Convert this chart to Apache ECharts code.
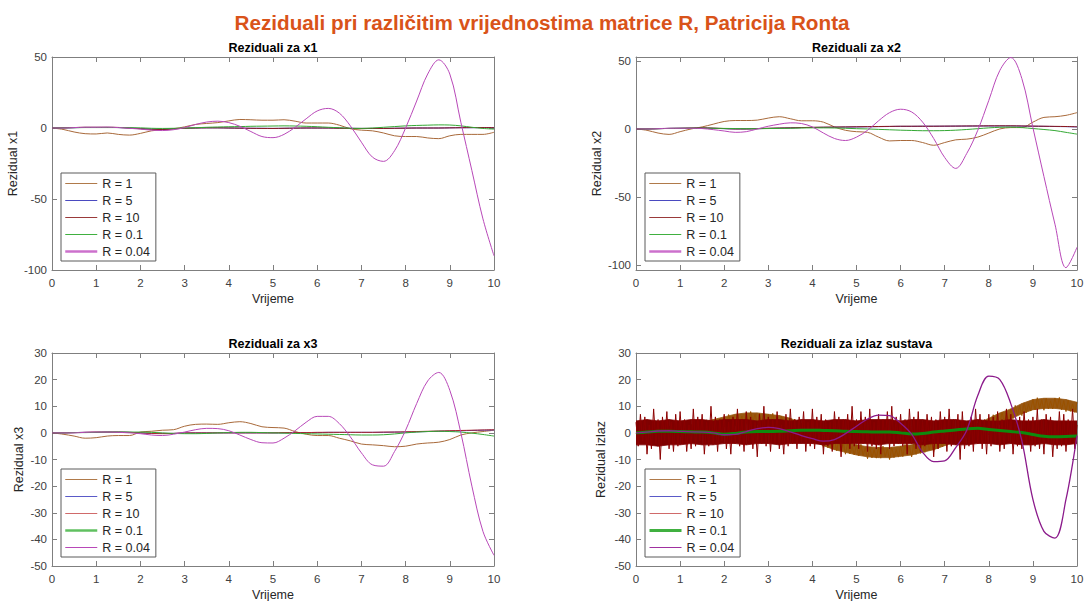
<!DOCTYPE html>
<html><head><meta charset="utf-8">
<script src="https://cdn.jsdelivr.net/npm/echarts@6/dist/echarts.min.js"></script>
<style>html,body{margin:0;padding:0;background:#fff}#main{width:1084px;height:601px}</style>
</head><body><div id="main"></div>
<script>
// ---------- DATA ----------
const NAMES = ['R = 1', 'R = 5', 'R = 10', 'R = 0.1', 'R = 0.04'];
const X_TICKS = [0,1,2,3,4,5,6,7,8,9,10];
const T = [0,0.25,0.5,0.75,1,1.25,1.5,1.75,2,2.25,2.5,2.75,3,3.25,3.5,3.75,4,4.25,4.5,4.75,5,5.25,5.5,5.75,6,6.25,6.5,6.75,7,7.25,7.5,7.75,8,8.25,8.5,8.75,9,9.25,9.5,9.75,10];

// Rezidual x1
const x1_R1   = [0,-1,-2.8,-4,-4.2,-3.5,-4.5,-5,-3.8,-2,-1.2,-0.5,0.8,2.5,3.2,3.8,5,6,5.8,5.5,5.5,5.8,4.8,3.5,3.5,3.5,2,-0.5,-1.5,-2,-3.5,-5.5,-6,-6,-7,-7.5,-5.5,-4.5,-4.5,-4.5,-3];
const x1_R5   = [0,0.1,0.2,0.4,0.4,0.4,0.3,0,-0.4,-0.8,-0.9,-0.5,-0.2,0,0.1,0.1,0,-0.1,-0.2,-0.2,-0.3,-0.2,-0.1,0,0,0,-0.1,-0.2,-0.3,-0.3,-0.3,-0.2,-0.1,0,0,0,0.1,0.2,0.2,0.3,0.3];
const x1_R10  = [0,0.1,0.3,0.5,0.5,0.5,0.4,0,-0.5,-0.9,-1,-0.6,-0.2,0,0.1,0.1,0,-0.1,-0.2,-0.3,-0.3,-0.2,-0.1,0,0,0,-0.2,-0.3,-0.3,-0.3,-0.3,-0.2,-0.1,0,0,0,0.1,0.2,0.3,0.3,0.3];
const x1_R01  = [0,0.1,0.2,0.3,0.3,0.3,0.3,0.2,0.1,-0.2,-0.3,-0.2,0,0.2,0.5,0.7,0.9,1,1.2,1.3,1.4,1.5,1.4,1.2,0.9,0.5,0.2,-0.2,-0.3,0,0.5,1,1.5,1.8,2,2.2,2.1,1.5,0.5,-0.3,-0.8];
const x1_R004 = [0,0,0.3,0.5,0.5,0.6,0.3,-0.2,-0.8,-1.5,-1.8,-1.2,0.3,2.5,4.2,4.8,3.8,1.2,-2.5,-6,-6.8,-4.5,0.5,6.5,12,13.8,10.5,1.5,-10,-20.5,-23.5,-16,0,19,38,48,38,4,-30,-64,-90];

// Rezidual x2
const x2_R1   = [0,-1,-3,-4,-2,0,1.5,3.5,5.5,6.2,6.2,6.5,8,9,7.5,6,6,5,1.5,-1,-2,-2.5,-6,-8.8,-8.5,-8.5,-10,-12,-10,-8,-7.5,-6,-3,0,1,1,5,8.5,9,10,12];
const x2_R5   = [0,0,0.2,0.4,0.5,0.6,0.7,0.5,0.2,0,0,0.2,0.4,0.6,0.8,1,1.1,1.2,1.3,1.4,1.5,1.6,1.7,1.8,1.9,1.9,2,2,2,2.1,2.1,2.2,2.2,2.2,2.2,2.1,2,1.9,1.8,1.7,1.5];
const x2_R10  = [0,0,0.2,0.4,0.5,0.7,0.8,0.6,0.3,0,0,0.2,0.5,0.7,0.8,1,1.2,1.3,1.4,1.5,1.6,1.7,1.8,1.9,2,2,2,2,2.1,2.1,2.2,2.2,2.3,2.3,2.3,2.2,2.1,2,1.9,1.8,1.6];
const x2_R01  = [0,0,0.2,0.4,0.5,0.6,0.6,0.5,0.4,0.3,0.2,0.2,0.3,0.4,0.5,0.7,0.8,0.8,0.7,0.5,0.2,0,-0.3,-0.6,-0.9,-1.1,-1.3,-1.3,-1.2,-0.9,-0.4,0.2,0.8,1.2,1.3,1,0.3,-0.4,-1.2,-2.5,-3.8];
const x2_R004 = [0,0,0.2,0.5,0.5,0.5,0.3,-0.5,-1.5,-2.5,-2,0,2,3.5,4.5,4,1.5,-3,-7,-8.5,-6,-1,6,12,14.5,12.5,5,-7,-21,-29,-18,-1,21,43,52.5,37,1,-35,-70,-102,-87];

// Rezidual x3
const x3_R1   = [0,-0.5,-1.2,-2,-1.8,-1.2,-1,-1,0.3,0.6,1,1.2,2.5,3.2,3.3,3.2,3.8,4.2,3.5,2.3,2,1.8,0.5,-0.5,-1,-1,-2,-3,-4.2,-4.5,-4.8,-5.2,-5,-4.2,-3.8,-3.5,-2.5,-0.8,0,0.5,1];
const x3_R5   = [0,0,0.1,0.2,0.2,0.3,0.3,0.2,0,-0.2,-0.2,-0.2,0,0,0,0,0,0,0,0,0,0,0.1,0.1,0.1,0.2,0.2,0.2,0.2,0.2,0.2,0.3,0.3,0.4,0.5,0.6,0.7,0.8,0.9,1,1.1];
const x3_R10  = [0,0,0.1,0.2,0.3,0.3,0.3,0.2,0,-0.2,-0.3,-0.2,0,0,0,0,0,0,0,0,0,0.1,0.1,0.1,0.2,0.2,0.2,0.2,0.2,0.2,0.3,0.3,0.4,0.5,0.6,0.7,0.8,0.9,1,1.1,1.2];
const x3_R01  = [0,0,0.1,0.1,0.2,0.3,0.3,0.3,0.3,0.2,0,-0.2,-0.3,-0.3,-0.2,0,0.1,0.2,0.2,0.1,0,-0.1,-0.2,-0.3,-0.4,-0.5,-0.6,-0.7,-0.8,-0.8,-0.7,-0.4,0,0.3,0.5,0.6,0.5,0.3,-0.1,-0.6,-1.2];
const x3_R004 = [0,0,0,0.2,0.3,0.3,0.2,0,-0.3,-0.8,-1,-0.5,0.3,1.2,1.7,1.6,0.8,-0.8,-2.5,-3.7,-3.8,-2,0.8,4,6.2,6.2,3.5,-1.5,-7.5,-12,-12.5,-7,1,11,19.5,22.7,16,0,-20,-37,-46];

// Rezidual izlaz (noisy series sampled every 0.05 s)
const TN_STEP = 0.05;
const iz_R1 = [0,-1.9,2.6,-1.3,1.7,-2.2,2.3,-1.6,1.4,-1.5,
  2.5,-1.5,3.0,-1.0,2.0,-2.0,2.5,-1.5,1.5,-1.5,
  2.5,-1.4,3.2,-0.7,2.4,-1.5,3.2,-0.6,2.6,-0.2,
  4.0,0.2,4.9,1.1,4.3,0.5,5.2,1.4,4.6,1.8,
  6.0,2.2,6.9,3.1,6.3,2.5,7.1,3.2,6.3,3.4,
  7.5,3.5,8.0,4.0,7.0,3.0,7.4,3.3,6.2,3.1,
  7.0,2.9,7.3,3.2,6.1,2.0,6.3,2.1,4.9,1.7,
  5.5,1.1,5.2,0.8,3.4,-1.0,3.0,-1.5,1.0,-2.5,
  1.0,-3.4,0.7,-3.7,-1.1,-5.5,-1.3,-5.6,-2.9,-6.2,
  -2.5,-6.7,-2.4,-6.6,-3.8,-8.0,-3.7,-7.9,-5.1,-8.3,
  -4.5,-8.6,-4.3,-8.4,-5.6,-9.7,-5.3,-9.4,-6.4,-9.5,
  -5.5,-9.5,-5.0,-9.0,-6.0,-10.0,-5.4,-9.3,-6.2,-9.1,
  -5.0,-8.9,-4.3,-8.2,-5.1,-9.0,-4.3,-8.1,-4.9,-7.7,
  -3.5,-7.3,-2.6,-6.4,-3.2,-7.0,-2.2,-5.9,-2.6,-5.3,
  -1.0,-4.7,0.1,-3.6,-0.3,-4.0,0.8,-2.9,0.4,-2.3,
  2.0,-1.7,3.1,-0.6,2.7,-1.0,3.9,0.3,3.7,1.1,
  5.5,1.9,6.8,3.2,6.6,3.0,7.8,4.1,7.4,4.7,
  9.0,5.4,10.3,6.7,10.1,6.5,11.3,7.6,10.9,8.2,
  12.5,8.6,13.2,9.3,12.4,8.5,13.0,9.0,12.0,9.0,
  13.0,9.4,13.3,8.7,12.1,8.0,12.3,8.1,10.9,7.7,
  11.5];
// dense core of the R = 1 noise band (every 0.25 s)
const iz_R1_lo = [-1.8,-1.5,-1.3,-1.3,-1.3,-0.8,0.2,1.2,2.2,3.2,3.7,3.7,3.2,2.7,1.7,-0.3,-2.8,-4.8,-6.3,-7.3,-8.3,-9,-9.3,-9.3,-8.8,-8.3,-7.3,-6.3,-4.8,-3.3,-1.8,-0.3,1.7,3.7,5.2,7.2,8.7,9.2,9.2,8.7,7.7];
const iz_R1_hi = [2,2.3,2.5,2.5,2.5,3,4,5,6,7,7.5,7.5,7,6.5,5.5,3.5,1,-1,-2.5,-3.5,-4.5,-5.2,-5.5,-5.5,-5,-4.5,-3.5,-2.5,-1,0.5,2,3.5,5.5,7.5,9,11,12.5,13,13,12.5,11.5];
const iz_R10 = [4,-5,7,-3,6,-8,3,-6,9,-4,5,-10,6,-3,8,-6,4,-7,7,-5,
  8,-4,5,-7,3,-6,9,-5,6,-3,7,-8,4,-5,10,-4,6,-7,5,-3,
  7,-6,4,-8,6,-4,9,-5,5,-7,8,-3,6,-6,4,-9,7,-4,10,-5,
  6,-7,5,-4,8,-6,3,-8,7,-5,9,-4,5,-6,6,-3,8,-7,4,-5,
  9,-6,6,-4,7,-8,5,-5,4,-7,8,-3,6,-9,5,-4,7,-6,10,-5,
  5,-6,8,-4,6,-7,9,-5,4,-6,7,-8,5,-3,8,-6,10,-5,6,-4,
  7,-5,5,-8,9,-4,6,-6,8,-7,4,-5,7,-3,6,-9,5,-6,8,-4,
  6,-7,9,-5,5,-4,7,-10,8,-6,4,-5,6,-7,9,-4,7,-6,5,-8,
  7,-5,6,-4,8,-7,5,-6,9,-3,7,-8,4,-5,6,-6,8,-4,5,-7,
  6,-5,9,-6,5,-8,7,-4,6,-9,4,-6,8,-5,7,-7,5,-4,9,-6,
  3];
// dense core of the R = 10 noise band (every 0.25 s)
const iz_R10_lo = [-4.5,-4.5,-5,-4.5,-4.5,-4,-4.5,-4.5,-4,-4,-4.5,-4,-4,-4.5,-4,-4,-4,-4.5,-4,-4,-4,-4,-4.5,-4,-4,-4,-4.5,-4,-4,-4.5,-4.5,-4,-4,-4.5,-4,-4.5,-4.5,-4,-4.5,-4.5,-4];
const iz_R10_hi = [4.5,5,4.5,5,4.5,5,5,4.5,5,5,5,4.5,5,5,4.5,5,5,4.5,5,5,4.5,5,5,5,4.5,5,5,4.5,5,5,4.5,5,4.5,4.5,5,4.5,4.5,5,4.5,4.5,4.5];
const iz_R5   = [0,0.5,-0.5,0.8,-0.6,0.4,-0.3,0.6,-0.8,0.5,-0.4,0.7,-0.5,0.6,-0.3,0.5,-0.6,0.8,-0.4,0.5,-0.5,0.6,-0.7,0.4,-0.5,0.6,-0.4,0.7,-0.6,0.5,-0.4,0.6,-0.5,0.7,-0.3,0.5,-0.6,0.4,-0.5,0.6,-0.4];
const iz_R01  = [0,0.3,0.6,0.6,0.5,0.4,0.3,0,-0.5,-0.2,0.3,0.5,0.5,0.6,0.8,1,1,0.9,0.8,0.6,0.5,0.4,0.3,0.3,0,-0.4,-0.2,0.3,0.7,1.1,1.5,1.7,1.3,0.9,0.5,0.1,-0.6,-1.3,-1.5,-1.4,-1.2];
const iz_R004 = [0,0.3,0.7,0.8,0.6,0.4,0.3,0,-0.7,-0.6,0.5,1.6,2.1,1.6,0.4,-1,-2.2,-3.1,-2.5,-0.3,2.5,5.2,6.7,6.5,3.6,-0.5,-7.3,-10.8,-10.5,-5.5,1,14,21.3,20,10.9,-3,-25,-37,-39.5,-25,-1];

// ---------- LAYOUT / STYLE ----------
const FONT = "'Liberation Sans', Arial, Helvetica, sans-serif";
const AX = '#7f7f7f';
const TXT = '#404040';
const panels = [
  {grid:{left:52, top:57, width:442, height:213}, ymin:-100, ymax:50, yticks:[-100,-50,0,50], yname:'Rezidual x1', ygap:33, title:'Reziduali za x1',
   series:[x1_R1,x1_R5,x1_R10,x1_R01,x1_R004], times:[T,T,T,T,T],
   colors:['#A8693A','#3434C4','#8E1A1A','#34A834','#B848B8'], widths:[1,1,1,1,1],
   legColors:['#B07A4A','#4A4AC0','#9A3A3A','#40B040','#CC70CC'], legWidths:[1.2,1.2,1.2,1.2,2.5], bands:[]},
  {grid:{left:636, top:57, width:441, height:213}, ymin:-103.7, ymax:52.9, yticks:[-100,-50,0,50], yname:'Rezidual x2', ygap:33, title:'Reziduali za x2',
   series:[x2_R1,x2_R5,x2_R10,x2_R01,x2_R004], times:[T,T,T,T,T],
   colors:['#A8693A','#3434C4','#8E1A1A','#34A834','#B848B8'], widths:[1,1,1,1,1],
   legColors:['#B07A4A','#4A4AC0','#9A3A3A','#40B040','#CC70CC'], legWidths:[1.2,1.2,1.2,1.2,2.5], bands:[]},
  {grid:{left:52, top:353, width:442, height:213}, ymin:-50, ymax:30, yticks:[-50,-40,-30,-20,-10,0,10,20,30], yname:'Rezidual x3', ygap:27, title:'Reziduali za x3',
   series:[x3_R1,x3_R5,x3_R10,x3_R01,x3_R004], times:[T,T,T,T,T],
   colors:['#A8693A','#3434C4','#B02A2A','#34A834','#B848B8'], widths:[1,1,1,1,1],
   legColors:['#B07A4A','#5A5AC8','#D06A6A','#60C060','#B848B8'], legWidths:[1.2,1.2,1.2,2.5,1.2], bands:[]},
  {grid:{left:636, top:353, width:441, height:213}, ymin:-50, ymax:30, yticks:[-50,-40,-30,-20,-10,0,10,20,30], yname:'Rezidual izlaz', ygap:29, title:'Reziduali za izlaz sustava',
   series:[iz_R1,iz_R5,iz_R10,iz_R01,iz_R004], times:['N',T,'N',T,T],
   colors:['#9A5200','#3434C4','#8B0000','#0E8A0E','#8B1A8B'], widths:[1,1,1,3,1.3],
   legColors:['#B07A4A','#5A5AC8','#D06A6A','#40B040','#A030A0'], legWidths:[1.2,1.2,1.2,3,1.2],
   bands:[{k:0, lo:iz_R1_lo, hi:iz_R1_hi, color:'#985812'}, {k:2, lo:iz_R10_lo, hi:iz_R10_hi, color:'#800000'}]}
];

const option = {
  animation:false,
  backgroundColor:'#ffffff',
  title:{text:'Reziduali pri različitim vrijednostima matrice R, Patricija Ronta', left:'center', top:7,
    textStyle:{color:'#D95319', fontSize:20.7, fontWeight:'bold', fontFamily:FONT}},
  grid:[], xAxis:[], yAxis:[], legend:[], series:[], graphic:[]
};

function bandSeries(name, gi, b, z) {
  const n = T.length;
  return {
    name, type:'custom', xAxisIndex:gi*2, yAxisIndex:gi*2, silent:true, clip:true, z,
    data:T.map((t, i) => [t, b.lo[i], b.hi[i]]),
    encode:{x:0, y:[1, 2]},
    itemStyle:{color:b.color},
    renderItem:(params, api) => {
      const i = params.dataIndex;
      if (i >= n - 1) return null;
      const p1 = api.coord([api.value(0), api.value(1)]);
      const p2 = api.coord([T[i + 1], b.lo[i + 1]]);
      const p3 = api.coord([T[i + 1], b.hi[i + 1]]);
      const p4 = api.coord([api.value(0), api.value(2)]);
      return {type:'polygon', shape:{points:[p1, p2, p3, p4]},
        style:{fill:b.color, stroke:b.color, lineWidth:0.8}};
    }
  };
}

panels.forEach((p, gi) => {
  option.grid.push(Object.assign({show:false, containLabel:false, outerBoundsMode:'none'}, p.grid));
  const tickStyle = {color:AX, width:1};
  const common = {gridIndex:gi, type:'value', splitLine:{show:false}, axisLine:{show:true, onZero:false, lineStyle:{color:AX, width:1}}};
  option.xAxis.push(Object.assign({}, common, {position:'bottom', min:0, max:10,
    axisTick:{show:true, inside:true, length:5, customValues:X_TICKS, lineStyle:tickStyle},
    axisLabel:{show:true, customValues:X_TICKS, color:TXT, fontSize:11.5, fontFamily:FONT, margin:7},
    name:'Vrijeme', nameLocation:'middle', nameGap:22, nameMoveOverlap:false,
    nameTextStyle:{color:'#262626', fontSize:12.5, fontFamily:FONT}}));
  option.xAxis.push(Object.assign({}, common, {position:'top', min:0, max:10,
    axisTick:{show:true, inside:true, length:5, customValues:X_TICKS, lineStyle:tickStyle},
    axisLabel:{show:false}}));
  option.yAxis.push(Object.assign({}, common, {position:'left', min:p.ymin, max:p.ymax,
    axisTick:{show:true, inside:true, length:5, customValues:p.yticks, lineStyle:tickStyle},
    axisLabel:{show:true, customValues:p.yticks, color:TXT, fontSize:11.5, fontFamily:FONT, margin:5},
    name:p.yname, nameLocation:'middle', nameGap:p.ygap, nameRotate:90, nameMoveOverlap:false,
    nameTextStyle:{color:'#262626', fontSize:12.5, fontFamily:FONT}}));
  option.yAxis.push(Object.assign({}, common, {position:'right', min:p.ymin, max:p.ymax,
    axisTick:{show:true, inside:true, length:5, customValues:p.yticks, lineStyle:tickStyle},
    axisLabel:{show:false}}));

  p.series.forEach((vals, k) => {
    p.bands.filter(b => b.k === k).forEach(b => option.series.push(bandSeries(NAMES[k], gi, b, 2 + k)));
    const times = p.times[k];
    const data = vals.map((v, i) => [times === 'N' ? +(i * TN_STEP).toFixed(2) : times[i], v]);
    option.series.push({
      name:NAMES[k], type:'line', xAxisIndex:gi*2, yAxisIndex:gi*2,
      data, symbol:'none', showSymbol:false, smooth: times === 'N' ? false : 0.35,
      lineStyle:{color:p.colors[k], width:p.widths[k]}, itemStyle:{color:p.colors[k]},
      silent:true, clip:true, z:2 + k
    });
  });

  option.legend.push({
    show:true, orient:'vertical', left:p.grid.left + 9, top:p.grid.top + p.grid.height - 97,
    padding:[4,6,3,3], itemGap:4, itemWidth:32, itemHeight:13, itemTextGap:4,
    backgroundColor:'#ffffff', borderColor:'#5a5a5a', borderWidth:1, borderRadius:0,
    selectedMode:false, z:20,
    textStyle:{color:'#262626', fontSize:12.5, fontFamily:FONT},
    data: NAMES.map((n, k) => ({name:n, itemStyle:{opacity:0},
      lineStyle:{color:p.legColors[k], width:p.legWidths[k]}}))
  });

  option.graphic.push({type:'text', silent:true, z:30,
    x:p.grid.left + p.grid.width / 2, y:p.grid.top - 9,
    style:{text:p.title, fill:'#000000', font:'bold 12.5px ' + FONT,
      fontSize:12.5, fontWeight:'bold', fontFamily:FONT,
      align:'center', verticalAlign:'middle', textAlign:'center', textVerticalAlign:'middle'}});
});

const chart = echarts.init(document.getElementById('main'), null, {renderer:'svg', width:1084, height:601});
chart.setOption(option);
</script></body></html>
